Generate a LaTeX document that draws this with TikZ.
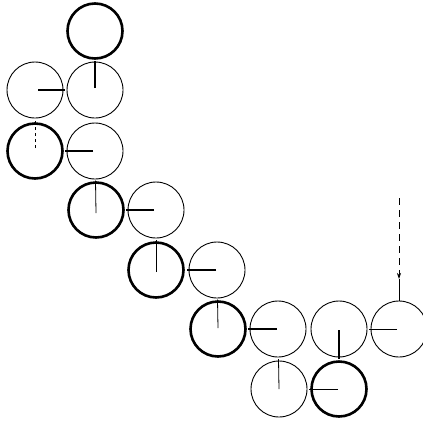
\documentclass[tikz,border=0pt]{standalone}
\usetikzlibrary{calc,arrows.meta}
\begin{document}
\begin{tikzpicture}[x=1pt,y=-1pt,
  wheel/.style={circle,draw=black,minimum size=56pt,inner sep=0pt,line width=0.9pt},
  thickwheel/.style={wheel,minimum size=55pt,line width=2.6pt},
  spoke/.style={line width=1.7pt},
  thinspoke/.style={line width=0.8pt},
  feed/.style={line width=0.7pt,dash pattern=on 7pt off 5pt}]
\useasboundingbox (0,0) rectangle (423,421);
\node[thickwheel] (c10) at (95,31) {};
\node[wheel] (c01) at (35,90) {};
\node[wheel] (c11) at (95,90) {};
\node[thickwheel] (c02) at (35,151) {};
\node[wheel] (c12) at (95,151) {};
\node[thickwheel] (c13) at (96,210) {};
\node[wheel] (c23) at (156,210) {};
\node[thickwheel] (c24) at (156,270) {};
\node[wheel] (c34) at (217,270) {};
\node[thickwheel] (c35) at (218,329) {};
\node[wheel] (c45) at (278,329) {};
\node[wheel] (c55) at (339,329) {};
\node[wheel] (c65) at (399,329) {};
\node[wheel] (c46) at (279,389) {};
\node[thickwheel] (c56) at (339,389) {};
% contact points
\coordinate (k1) at ($(c10)!0.5!(c11)$);
\coordinate (k2) at ($(c01)!0.5!(c11)$);
\coordinate (k3) at ($(c01)!0.5!(c02)$);
\coordinate (k4) at ($(c02)!0.5!(c12)$);
\coordinate (k5) at ($(c12)!0.5!(c13)$);
\coordinate (k6) at ($(c13)!0.5!(c23)$);
\coordinate (k7) at ($(c23)!0.5!(c24)$);
\coordinate (k8) at ($(c24)!0.5!(c34)$);
\coordinate (k9) at ($(c34)!0.5!(c35)$);
\coordinate (k10) at ($(c35)!0.5!(c45)$);
\coordinate (k11) at ($(c45)!0.5!(c46)$);
\coordinate (k12) at ($(c46)!0.5!(c56)$);
\coordinate (k13) at ($(c55)!0.5!(c56)$);
\coordinate (k14) at ($(c55)!0.5!(c65)$);
% spokes
\draw[spoke] (c11.center) ++(0,-2) -- (k1);
\draw[thinspoke,line width=1.3pt] (c01.center) ++(3,0) -- (k2);
\draw[thinspoke,dash pattern=on 3pt off 3pt] (c02.center) ++(0,-3) -- (k3);
\draw[spoke] (c12.center) ++(-2,0) -- (k4);
\draw[thinspoke] (c13.center) ++(0,3) -- (k5);
\draw[spoke] (c23.center) ++(-2,0) -- (k6);
\draw[thinspoke] (c24.center) ++(0,2) -- (k7);
\draw[spoke] (c34.center) ++(-1,0) -- (k8);
\draw[thinspoke] (c35.center) ++(0,-1) -- (k9);
\draw[spoke] (c45.center) ++(-1,0) -- (k10);
\draw[thinspoke] (c46.center) ++(0,0) -- (k11);
\draw[thinspoke] (c56.center) ++(-1,0) -- (k12);
\draw[spoke] (c55.center) ++(0,1) -- (k13);
\draw[thinspoke] (c65.center) ++(-2,0) -- (k14);
% feed arrow
\coordinate (src) at (399,198);
\coordinate (tip) at (399,279);
\draw[feed,-{Stealth[length=6pt,width=4pt]}] (src) -- (tip);
\draw[line width=0.8pt] (tip) -- (c65.north);
\end{tikzpicture}
\end{document}
